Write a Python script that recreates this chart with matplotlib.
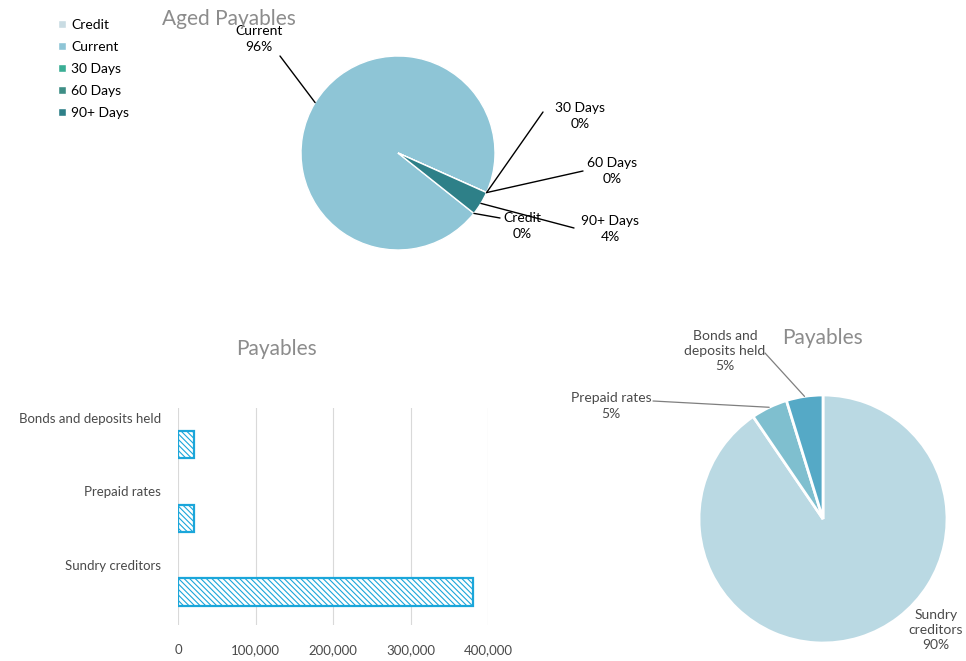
import matplotlib.pyplot as plt
import numpy as np

plt.rcParams['font.family'] = ['Lato', 'DejaVu Sans']
plt.rcParams['hatch.linewidth'] = 0.8

W, H = 966, 661

# aged payables (percent of total)
aged_labels = ["Credit", "Current", "30 Days", "60 Days", "90+ Days"]
aged_values = [0, 96, 0, 0, 4]
aged_colors = ["#c9dce3", "#8ec5d6", "#3aae95", "#3e8e86", "#2e8088"]

# payables breakdown
pay_labels = ["Sundry creditors", "Prepaid rates", "Bonds and deposits held"]
pay_values = [380000, 20000, 20000]
pay_colors = ["#bad9e3", "#7fbfcf", "#55a9c6"]
pay_ticks = [0, 100000, 200000, 300000, 400000]

TITLE_C = "#8c8c8c"
TEXT_C = "#4a4a4a"


def fpx(x, y):
    # figure fraction from top-left pixel coords
    return x / W, 1 - y / H


def box(cx, cy, half):
    return [(cx - half) / W, 1 - (cy + half) / H, 2 * half / W, 2 * half / H]


fig = plt.figure(figsize=(W / 100, H / 100), dpi=100)

# ---------- Aged Payables pie ----------
r1 = 97
ax1 = fig.add_axes(box(398, 153, r1 * 1.25))
wedges1, _ = ax1.pie(aged_values, colors=aged_colors, startangle=-38.5,
                     counterclock=False,
                     wedgeprops=dict(edgecolor="white", linewidth=1.0))
ax1.set_xlim(-1.25, 1.25)
ax1.set_ylim(-1.25, 1.25)
ax1.set_aspect("auto")

# label text centre (px), leader end (px)
aged_pos = {
    "Credit": ((522, 226), (500, 218)),
    "Current": ((259, 39), (280, 56)),
    "30 Days": ((580, 116), (543, 112)),
    "60 Days": ((612, 171), (583, 171)),
    "90+ Days": ((610, 229), (574, 228)),
}
for w, lab, v in zip(wedges1, aged_labels, aged_values):
    ang = np.deg2rad((w.theta1 + w.theta2) / 2)
    tp, lp = aged_pos[lab]
    ax1.annotate("", xy=(np.cos(ang), np.sin(ang)), xycoords="data",
                 xytext=fpx(*lp), textcoords="figure fraction",
                 arrowprops=dict(arrowstyle="-", color="black", lw=1.0,
                                 shrinkA=0, shrinkB=0),
                 annotation_clip=False)
    fig.text(*fpx(*tp), f"{lab}\n{v}%", ha="center", va="center",
             fontsize=10, color="black", linespacing=1.35)

fig.text(*fpx(229, 19), "Aged Payables", ha="center", va="center",
         fontsize=15, color=TITLE_C)

fig.legend(wedges1, aged_labels, loc="upper left",
           bbox_to_anchor=fpx(58, 19), frameon=False, fontsize=10,
           handlelength=0.55, handleheight=0.55, handletextpad=0.4,
           labelspacing=0.72, borderpad=0, borderaxespad=0,
           labelcolor="black")

# ---------- Payables bar chart ----------
ax2 = fig.add_axes([178 / W, 1 - 625 / H, 310 / W, 217 / H])
ypos = np.arange(len(pay_labels))
ax2.barh(ypos, pay_values, height=0.37, color="white", edgecolor="#1ba6da",
         hatch="\\\\\\\\\\\\", linewidth=1.6)
ax2.set_xlim(0, 400000)
ax2.set_ylim(-0.45, 2.5)
ax2.set_xticks(pay_ticks)
ax2.set_xticklabels([f"{t:,}" for t in pay_ticks])
ax2.set_yticks(ypos + 0.37)
ax2.set_yticklabels(pay_labels)
ax2.grid(axis="x", color="#d9d9d9", linewidth=0.8)
ax2.set_axisbelow(True)
for s in ax2.spines.values():
    s.set_visible(False)
ax2.tick_params(length=0, labelsize=9.5, colors=TEXT_C)
ax2.tick_params(axis="x", pad=14)
ax2.tick_params(axis="y", pad=12)
fig.text(*fpx(276, 349), "Payables", ha="center", va="center",
         fontsize=15, color=TITLE_C)

# ---------- Payables pie ----------
r3 = 124
ax3 = fig.add_axes(box(823, 519, r3 * 1.25))
wedges3, _ = ax3.pie(pay_values, colors=pay_colors, startangle=90,
                     counterclock=False,
                     wedgeprops=dict(edgecolor="white", linewidth=2.0))
ax3.set_xlim(-1.25, 1.25)
ax3.set_ylim(-1.25, 1.25)
ax3.set_aspect("auto")

total = sum(pay_values)
pay_pos = {
    "Sundry creditors": ((936, 630), None, "Sundry\ncreditors"),
    "Prepaid rates": ((611, 406), (653, 401), "Prepaid rates"),
    "Bonds and deposits held": ((725, 351), (765, 353), "Bonds and\ndeposits held"),
}
for w, lab, v in zip(wedges3, pay_labels, pay_values):
    ang = np.deg2rad((w.theta1 + w.theta2) / 2)
    tp, lp, txt = pay_pos[lab]
    if lp is not None:
        ax3.annotate("", xy=(np.cos(ang), np.sin(ang)), xycoords="data",
                     xytext=fpx(*lp), textcoords="figure fraction",
                     arrowprops=dict(arrowstyle="-", color="#7f7f7f", lw=0.9,
                                     shrinkA=0, shrinkB=0),
                     annotation_clip=False)
    fig.text(*fpx(*tp), f"{txt}\n{round(v / total * 100)}%", ha="center",
             va="center", fontsize=10, color=TEXT_C, linespacing=1.3)

fig.text(*fpx(823, 338), "Payables", ha="center", va="center",
         fontsize=15, color=TITLE_C)

fig.savefig("out.png", dpi=100)
